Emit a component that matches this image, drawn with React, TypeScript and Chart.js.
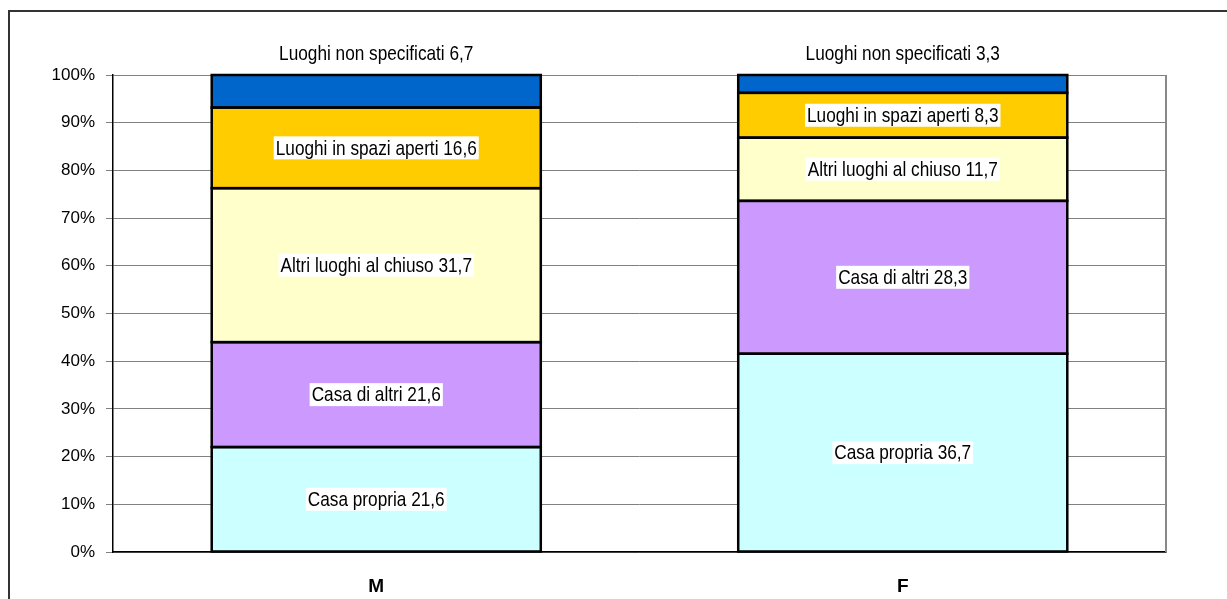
import React, { useEffect, useRef } from "react";
import { Chart, registerables } from "chart.js";

Chart.register(...registerables);

const categories = ["M", "F"];
const seriesNames = [
  "Casa propria",
  "Casa di altri",
  "Altri luoghi al chiuso",
  "Luoghi in spazi aperti",
  "Luoghi non specificati",
];
const casaPropria = [21.6, 36.7];
const casaDiAltri = [21.6, 28.3];
const altriLuoghiChiuso = [31.7, 11.7];
const luoghiSpaziAperti = [16.6, 8.3];
const luoghiNonSpecificati = [6.7, 3.3];
const seriesColors = ["#CCFFFF", "#CC99FF", "#FFFFCC", "#FFCC00", "#0066CC"];
const yTickStep = 10;

const allSeries = [casaPropria, casaDiAltri, altriLuoghiChiuso, luoghiSpaziAperti, luoghiNonSpecificati];

function fmt(v: number) {
  return v.toFixed(1).replace(".", ",");
}

function hasFont(name: string) {
  const c = document.createElement("canvas").getContext("2d")!;
  c.font = "40px monospace";
  const w1 = c.measureText("abcdefghijLMWxyz123").width;
  c.font = `40px "${name}", monospace`;
  const w2 = c.measureText("abcdefghijLMWxyz123").width;
  return Math.abs(w1 - w2) > 0.5;
}

export default function App() {
  const ref = useRef<HTMLCanvasElement>(null);
  useEffect(() => {
    const narrow = hasFont("Liberation Sans Narrow");
    const SQ = 0.82;
    const drawText = (ctx: CanvasRenderingContext2D, text: string, x: number, y: number, size: number, bold: boolean) => {
      if (narrow) {
        ctx.font = `${bold ? "bold " : ""}${size}px "Liberation Sans Narrow"`;
        ctx.fillText(text, x, y);
        return;
      }
      ctx.save();
      ctx.translate(x, y);
      ctx.scale(SQ, 1);
      ctx.font = `${bold ? "bold " : ""}${size}px "Liberation Sans"`;
      ctx.fillText(text, 0, 0);
      ctx.restore();
    };
    const measure = (ctx: CanvasRenderingContext2D, text: string, size: number) => {
      if (narrow) {
        ctx.font = `${size}px "Liberation Sans Narrow"`;
        return ctx.measureText(text).width;
      }
      ctx.font = `${size}px "Liberation Sans"`;
      return ctx.measureText(text).width * SQ;
    };

    const totals = categories.map((_, i) => allSeries.reduce((s, arr) => s + arr[i], 0));

    const labelPlugin = {
      id: "segLabels",
      beforeDatasetsDraw(chart: any) {
        const { ctx, chartArea } = chart;
        ctx.save();
        ctx.strokeStyle = "#888888";
        ctx.lineWidth = 2;
        ctx.beginPath();
        ctx.moveTo(chartArea.right, chartArea.top);
        ctx.lineTo(chartArea.right, chartArea.bottom);
        ctx.stroke();
        ctx.restore();
      },
      afterDatasetsDraw(chart: any) {
        const { ctx, chartArea } = chart;
        const size = 21;
        ctx.save();
        // bar outlines
        ctx.strokeStyle = "#000000";
        ctx.lineWidth = 2.5;
        allSeries.forEach((_, d) => {
          const meta = chart.getDatasetMeta(d);
          meta.data.forEach((el: any) => {
            const half = el.width / 2;
            const top = Math.min(el.y, el.base);
            const h = Math.abs(el.base - el.y);
            ctx.strokeRect(el.x - half, top, el.width, h);
          });
        });
        ctx.textAlign = "center";
        ctx.textBaseline = "middle";
        const last = allSeries.length - 1;
        allSeries.forEach((arr, d) => {
          const meta = chart.getDatasetMeta(d);
          meta.data.forEach((el: any, i: number) => {
            const text = `${seriesNames[d]} ${fmt(arr[i])}`;
            if (d === last) {
              ctx.fillStyle = "#000";
              drawText(ctx, text, el.x, chartArea.top - 21, size, false);
              return;
            }
            const cy = (el.y + el.base) / 2;
            const w = measure(ctx, text, size);
            ctx.fillStyle = "#FFFFFF";
            ctx.fillRect(el.x - w / 2 - 2, cy - 11.5, w + 4, 23);
            ctx.fillStyle = "#000";
            drawText(ctx, text, el.x, cy + 1, size, false);
          });
        });
        ctx.restore();
      },
    };

    const tickFamily = narrow ? '"Liberation Sans Narrow"' : '"Liberation Sans"';
    const chart = new Chart(ref.current!, {
      type: "bar",
      data: {
        labels: categories,
        datasets: allSeries.map((arr, d) => ({
          label: seriesNames[d],
          data: arr.map((v, i) => (v / totals[i]) * 100),
          backgroundColor: seriesColors[d],
          borderWidth: 0,
          inflateAmount: 0.5,
          categoryPercentage: 1,
          barPercentage: 0.625,
        })),
      },
      options: {
        animation: false,
        responsive: false,
        maintainAspectRatio: false,
        layout: { padding: { top: 75, right: 61, bottom: 0, left: 0 } },
        plugins: { legend: { display: false }, tooltip: { enabled: false }, title: { display: false } },
        scales: {
          x: {
            stacked: true,
            grid: { display: false, drawTicks: false },
            border: { display: true, color: "#000000", width: 1.5 },
            ticks: {
              color: "#000",
              padding: 23,
              font: { family: tickFamily, size: narrow ? 20 : 19, weight: "bold" },
            },
            afterFit: (s: any) => {
              s.height = 47;
            },
          },
          y: {
            stacked: true,
            min: 0,
            max: 100,
            grid: { color: "#808080", lineWidth: 1, tickLength: 7, drawTicks: true },
            border: { display: true, color: "#000000", width: 1.5 },
            ticks: {
              stepSize: yTickStep,
              color: "#000",
              padding: 11,
              font: { family: tickFamily, size: narrow ? 19 : 17 },
              callback: (v: any) => `${v}%`,
            },
            afterFit: (s: any) => {
              s.width = 113;
            },
          },
        },
      },
      plugins: [labelPlugin],
    });
    return () => chart.destroy();
  }, []);

  return (
    <div>
      <div
        style={{
          position: "fixed",
          left: 8,
          top: 10,
          width: 1400,
          height: 800,
          borderTop: "2px solid #333",
          borderLeft: "2px solid #333",
        }}
      />
      <canvas
        ref={ref}
        width={1227}
        height={599}
        style={{ position: "fixed", left: 0, top: 0, width: 1227, height: 599 }}
      />
    </div>
  );
}
